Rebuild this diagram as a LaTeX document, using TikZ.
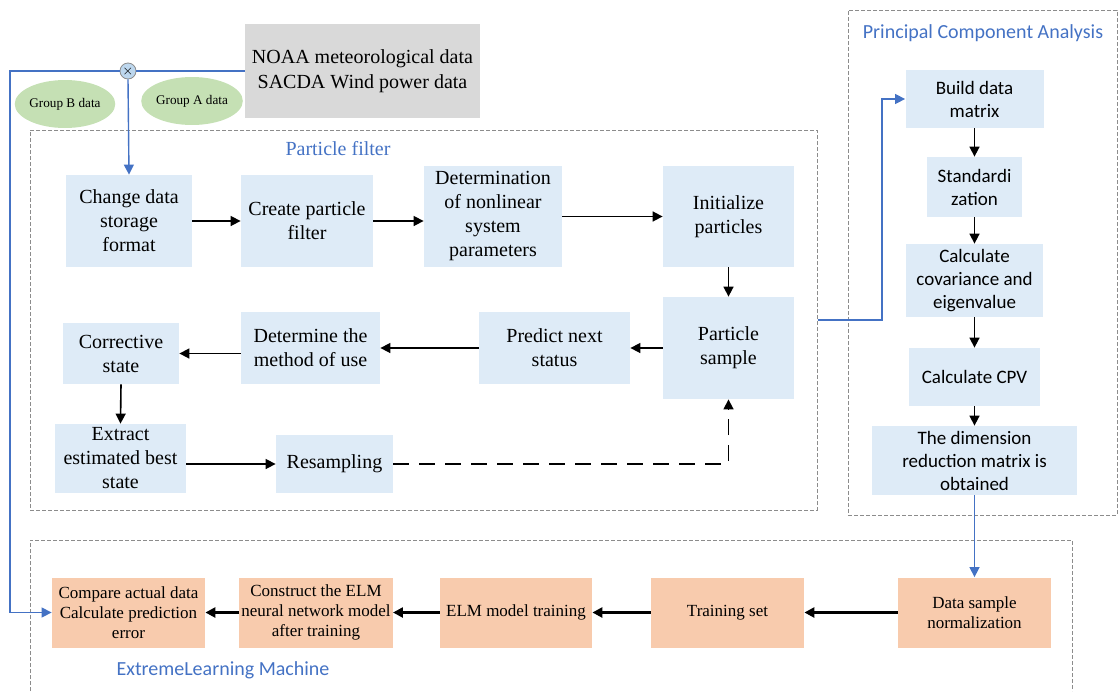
\documentclass[tikz,border=0pt]{standalone}
\usepackage{fontspec}
\setmainfont{Liberation Serif}
\newfontfamily\carlito{Carlito}
\usetikzlibrary{arrows.meta}
\usetikzlibrary{shapes.geometric}

\begin{document}
\begin{tikzpicture}[x=0.5pt, y=-0.5pt, >=Triangle, line join=miter]

	% Colors
	\definecolor{blueA}{RGB}{68,114,196}
	\definecolor{boxB}{RGB}{222,235,247}
	\definecolor{boxO}{RGB}{248,203,173}
	\definecolor{greenA}{RGB}{197,224,180}
	\definecolor{grayS}{RGB}{217,217,217}
	\definecolor{grayD}{RGB}{140,140,140}
	\definecolor{circB}{RGB}{189,215,238}

	\tikzset{
		pfbox/.style={fill=boxB, inner sep=1pt, align=center, font=\fontsize{10}{12}\selectfont},
		pcabox/.style={fill=boxB, inner sep=1pt, align=center, font=\carlito\fontsize{9.5}{11.5}\selectfont},
		elmbox/.style={fill=boxO, inner sep=1pt, align=center, font=\fontsize{8.5}{10}\selectfont},
		grp/.style={ellipse, fill=greenA, minimum width=48pt, minimum height=24pt, inner sep=0pt, font=\fontsize{6.6}{8}\selectfont},
		frame/.style={draw=grayD, dash pattern=on 2pt off 1pt, line width=0.5pt},
		arrowK/.style={-{Triangle[length=5pt,width=5pt]}, line width=0.8pt},
		arrowE/.style={-{Triangle[length=5pt,width=5pt]}, line width=1.5pt},
		arrowB/.style={-{Triangle[length=5pt,width=5pt]}, line width=0.7pt, draw=blueA},
		lineB/.style={line width=0.7pt, draw=blueA},
		ttl/.style={text=blueA, inner sep=0pt},
	}

	\useasboundingbox (0,0) rectangle (1118,691);

	% --- Frames
	\node[frame, minimum width=393.5pt, minimum height=190pt] (pf) at (423.5,320) {};
	\node[frame, minimum width=134.5pt, minimum height=252.5pt] (pca) at (982.5,262.5) {};
	\draw[frame] (30,691) -- (30,540) -- (1072,540) -- (1072,691);

	\node[ttl, font=\fontsize{10}{12}\selectfont] (pftitle) at (338,149) {Particle filter};
	\node[ttl, font=\carlito\fontsize{10}{12}\selectfont] (pcatitle) at (983,33) {Principal Component Analysis};
	\node[ttl, font=\carlito\fontsize{10}{12}\selectfont] (elmtitle) at (223,670) {ExtremeLearning Machine};

	% --- Data source
	\node[fill=grayS, minimum width=117.5pt, minimum height=47pt, align=center, inner sep=1pt,
		font=\fontsize{10}{12.5}\selectfont] (src) at (362.5,71) {NOAA meteorological data\\SACDA Wind power data};
	\node[circle, draw=grayD, fill=circB, minimum size=8pt, inner sep=0pt, line width=0.4pt,
		font=\fontsize{6}{6}\selectfont] (xc) at (128,71) {$\times$};
	\node[grp] (grpB) at (65,104) {Group B data};
	\node[grp] (grpA) at (192,101) {Group A data};
	\coordinate (lft) at (10,71);

	% --- Particle filter
	\node[pfbox, minimum width=63pt, minimum height=46pt] (chg) at (129,221) {Change data\\storage\\format};
	\node[pfbox, minimum width=66pt, minimum height=46pt] (cpf) at (307,221) {Create particle\\filter};
	\node[pfbox, minimum width=69pt, minimum height=50.5pt] (dnl) at (493,216.5) {Determination\\of nonlinear\\system\\parameters};
	\node[pfbox, minimum width=65.5pt, minimum height=50.5pt] (ini) at (728.5,216.5) {Initialize\\particles};
	\node[pfbox, minimum width=65.5pt, minimum height=51pt] (psm) at (728.5,348) {Particle\\sample};
	\node[pfbox, minimum width=75.5pt, minimum height=36pt] (pns) at (554.5,348) {Predict next\\status};
	\node[pfbox, minimum width=69.5pt, minimum height=36pt] (dmu) at (310.5,348) {Determine the\\method of use};
	\node[pfbox, minimum width=58pt, minimum height=30.5pt] (cst) at (121,353.5) {Corrective\\state};
	\node[pfbox, minimum width=65.5pt, minimum height=34.5pt] (ebs) at (120.5,458.5) {Extract\\estimated best\\state};
	\node[pfbox, minimum width=58.5pt, minimum height=29pt] (rsm) at (334.5,464) {Resampling};

	\draw[arrowK] (chg.east) -- (cpf.west);
	\draw[arrowK] (cpf.east) -- (cpf.east -| dnl.west);
	\draw[arrowK] (dnl.east) -- (ini.west);
	\draw[arrowK] (ini.south) -- (psm.north);
	\draw[arrowK] (psm.west) -- (pns.east);
	\draw[arrowK] (pns.west) -- (dmu.east);
	\draw[arrowK] (dmu.west |- cst.east) -- (cst.east);
	\draw[arrowK] (cst.south) -- (ebs.north);
	\draw[arrowK] (ebs.east |- rsm.west) -- (rsm.west);
	\draw[arrowK, dash pattern=on 8pt off 5pt] (rsm.east) -| (psm.south);

	% --- Principal component analysis
	\node[pcabox, minimum width=69pt, minimum height=29pt] (bdm) at (974.5,99) {Build data\\matrix};
	\node[pcabox, minimum width=47.5pt, minimum height=30pt] (std) at (974.5,187) {Standardi\\zation};
	\node[pcabox, minimum width=68.5pt, minimum height=36.5pt] (cov) at (974.5,280.5) {Calculate\\covariance and\\eigenvalue};
	\node[pcabox, minimum width=65.5pt, minimum height=29pt] (cpv) at (974.5,377) {Calculate CPV};
	\node[pcabox, minimum width=102.5pt, minimum height=34.5pt] (dim) at (974.5,460.5) {The dimension\\reduction matrix is\\obtained};

	\draw[arrowK] (bdm.south) -- (std.north);
	\draw[arrowK] (std.south) -- (cov.north);
	\draw[arrowK] (cov.south) -- (cpv.north);
	\draw[arrowK] (cpv.south) -- (dim.north);

	% --- Extreme learning machine
	\node[elmbox, minimum width=76.5pt, minimum height=35pt] (dsn) at (974.5,612.5) {Data sample\\normalization};
	\node[elmbox, minimum width=76.5pt, minimum height=35pt] (tst) at (727.5,612.5) {Training set};
	\node[elmbox, minimum width=76pt, minimum height=35pt] (elt) at (516,612.5) {ELM model training};
	\node[elmbox, minimum width=76pt, minimum height=35pt] (con) at (316,612.5) {Construct the ELM\\neural network model\\after training};
	\node[elmbox, minimum width=76.5pt, minimum height=35pt] (cmp) at (128.5,612.5) {Compare actual data\\Calculate prediction\\error};

	\draw[arrowE] (dsn.west) -- (tst.east);
	\draw[arrowE] (tst.west) -- (elt.east);
	\draw[arrowE] (elt.west) -- (con.east);
	\draw[arrowE] (con.west) -- (cmp.east);

	% --- Blue connectors
	\coordinate (bend) at (882,320);
	\draw[lineB] (src.west) -- (xc.east);
	\draw[arrowB] (xc.west) -- (lft) |- (cmp.west);
	\draw[arrowB] (xc.south) -- (chg.north);
	\draw[arrowB] (pf.east) -- (bend) |- (bdm.west);
	\draw[arrowB] (dim.south) -- (dsn.north);

\end{tikzpicture}
\end{document}
